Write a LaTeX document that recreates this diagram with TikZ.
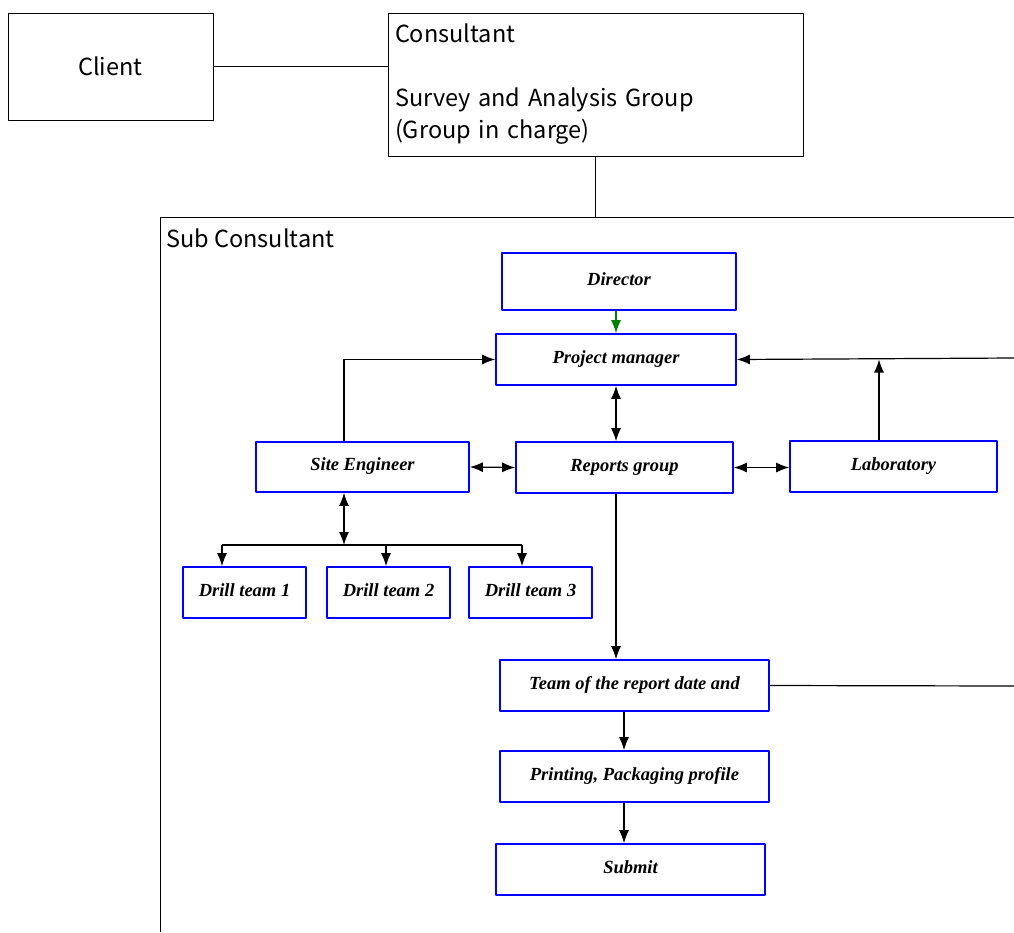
\documentclass[tikz,border=0pt]{standalone}
\usepackage{fontspec}
\usetikzlibrary{arrows.meta}
\newfontfamily\gothic{Noto Sans CJK JP}
\newfontfamily\timesf{Liberation Serif}
\begin{document}
\begin{tikzpicture}[x=1pt,y=-1pt,line join=round,
	>={Latex[length=13pt,width=10pt]},
	outer/.style={draw,line width=0.7pt,inner sep=0pt,font=\gothic\fontsize{23.5}{32}\selectfont},
	unit/.style={draw=blue,line width=1.7pt,inner sep=0pt,text height=12pt,text depth=4.5pt,font=\timesf\bfseries\itshape\fontsize{18.5}{21}\selectfont},
	link/.style={line width=1.2pt,->},
	dlink/.style={line width=1.2pt,<->}]
	\useasboundingbox (0,0) rectangle (1014,932);
	% top level
	\node[outer,minimum width=205,minimum height=107] (client) at (110.5,66.5) {Client};
	\node[outer,minimum width=415,minimum height=143,text width=401,align=left] (cons) at (595.5,84.5)
		{Consultant\\[32pt]Survey and Analysis Group\\(Group in charge)};
	\draw[line width=0.7pt] (client.east) -- (client.east -| cons.west);
	% sub consultant frame (cut off at right and bottom)
	\coordinate (sub) at (595.5,217);
	\draw[line width=0.7pt] (1014,217) -- (160,217) -- (160,932);
	\draw[line width=0.7pt] (cons.south) -- (sub);
	\node[anchor=west,inner sep=0pt,font=\gothic\fontsize{23.5}{26}\selectfont] (sublbl) at (166,238) {Sub Consultant};
	% units
	\node[unit,minimum width=234,minimum height=57] (dir) at (619,281.5) {Director};
	\node[unit,minimum width=240,minimum height=51] (pm) at (616,359.5) {Project manager};
	\node[unit,minimum width=213,minimum height=50] (site) at (362.5,467) {Site Engineer};
	\node[unit,minimum width=217,minimum height=51] (rep) at (624.5,467.5) {Reports group};
	\node[unit,minimum width=207,minimum height=51] (lab) at (893.5,466.5) {Laboratory};
	\node[unit,minimum width=123,minimum height=51] (d1) at (244.5,592.5) {Drill team 1};
	\node[unit,minimum width=123,minimum height=51] (d2) at (388.5,592.5) {Drill team 2};
	\node[unit,minimum width=123,minimum height=51] (d3) at (530.5,592.5) {Drill team 3};
	\node[unit,minimum width=269,minimum height=51] (team) at (634.5,685.5) {Team of the report date and};
	\node[unit,minimum width=269,minimum height=51] (print) at (634.5,776.5) {Printing, Packaging profile};
	\node[unit,minimum width=269,minimum height=51] (submit) at (630.5,869.5) {Submit};
	% connectors
	\coordinate (pmin) at (1014,358);
	\coordinate (fork) at (344,545);
	\coordinate (teamout) at (1014,686);
	\draw[link,green!50!black] (pm.north |- dir.south) -- (pm.north);
	\draw[link] ([xshift=-18.5]site.north) |- (pm.west);
	\draw[link] (pmin) -- (pm.east);
	\draw[link] ([xshift=-14.5]lab.north) -- ([xshift=-14.5]lab.north |- pm.east);
	\draw[dlink] (pm.south) -- (pm.south |- rep.north);
	\draw[dlink] (site.east) -- (rep.west);
	\draw[dlink] (rep.east) -- (rep.east -| lab.west);
	\draw[dlink] ([xshift=-18.5]site.south) -- (fork);
	\draw[line width=1.2pt] (fork) -- ([xshift=-22.5]d1.north |- fork);
	\draw[line width=1.2pt] (fork) -- ([xshift=-8.5]d3.north |- fork);
	\draw[link] ([xshift=-22.5]d1.north |- fork) -- ([xshift=-22.5]d1.north);
	\draw[link] ([xshift=-2.5]d2.north |- fork) -- ([xshift=-2.5]d2.north);
	\draw[link] ([xshift=-8.5]d3.north |- fork) -- ([xshift=-8.5]d3.north);
	\draw[link] (rep.south -| pm.south) -- (team.north -| pm.south);
	\draw[line width=1.2pt] (team.east) -- (teamout);
	\draw[link] ([xshift=-10.5]team.south) -- ([xshift=-10.5]print.north);
	\draw[link] ([xshift=-10.5]print.south) -- ([xshift=-10.5]print.south |- submit.north);
\end{tikzpicture}
\end{document}
